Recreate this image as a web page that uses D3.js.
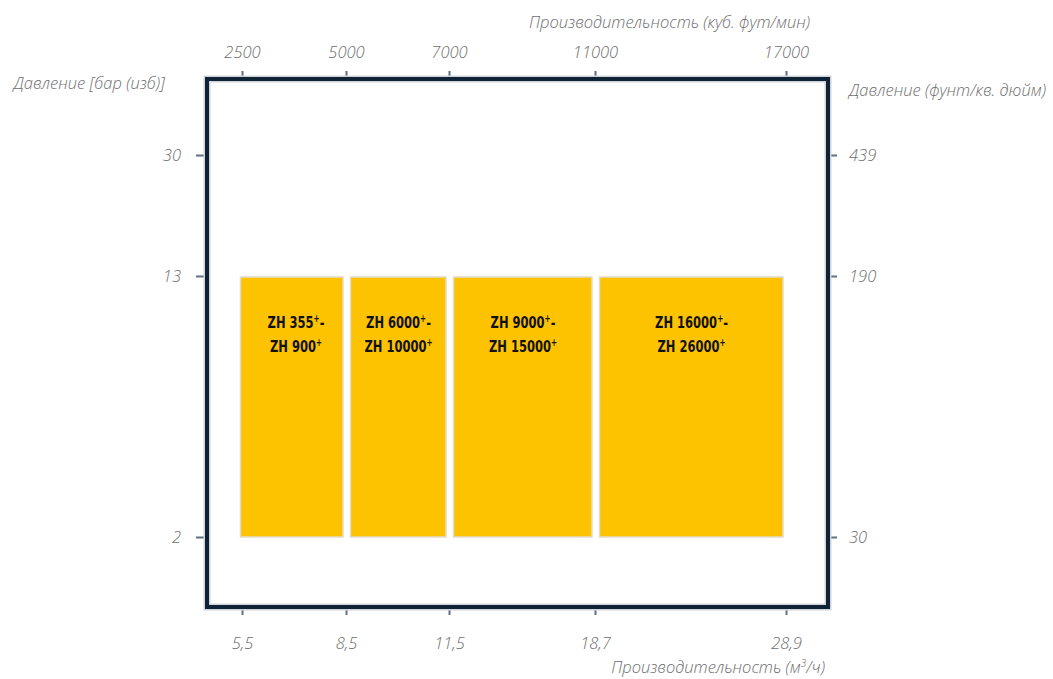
<!DOCTYPE html>
<html>
<head>
<meta charset="utf-8">
<title>ZH</title>
<script src="https://d3js.org/d3.v7.min.js"></script>
<style>
  body { margin: 0; background: #fff; }
  .lbl { font-family: "Open Sans", "DejaVu Sans", sans-serif; font-style: italic; font-weight: 300; fill: #6e6e6e; font-size: 16.5px; }
  .tick text { font-family: "Open Sans", "DejaVu Sans", sans-serif; font-style: italic; font-weight: 300; fill: #6e6e6e; font-size: 16.5px; }
  .tick line { stroke: #5f6f80; stroke-width: 2; }
  .bar-text { font-family: "DejaVu Sans", sans-serif; font-weight: bold; font-size: 16px; fill: #111; }
</style>
</head>
<body>
<div id="chart"></div>
<script>
// flow ticks (m3/h, bottom) and (cfm, top)
const flowM3 = [5.5, 8.5, 11.5, 18.7, 28.9];
const flowCfm = [2500, 5000, 7000, 11000, 17000];
// pressure ticks (bar g, left) and (psi, right)
const pressBar = [2, 13, 30];
const pressPsi = [30, 190, 439];

// model ranges
const models = [
  ["ZH 355", "ZH 900"],
  ["ZH 6000", "ZH 10000"],
  ["ZH 9000", "ZH 15000"],
  ["ZH 16000", "ZH 26000"]
];
const flowFrom = [5.5, 8.5, 11.5, 18.7];
const flowTo = [8.5, 11.5, 18.7, 28.9];
const pressFrom = [2, 2, 2, 2];
const pressTo = [13, 13, 13, 13];

const w = 1053, h = 679;
const frame = {left: 207, right: 828, top: 79, bottom: 607};

const svg = d3.select("#chart").append("svg")
  .attr("width", w).attr("height", h);

// uneven spacing, so piecewise scales
const xRange = [242, 346, 449, 595, 786];
const x = d3.scaleLinear().domain(flowM3).range(xRange);
const xTop = d3.scaleLinear().domain(flowCfm).range(xRange);
const yRange = [537, 276, 155];
const y = d3.scaleLinear().domain(pressBar).range(yRange);
const yRight = d3.scaleLinear().domain(pressPsi).range(yRange);

const fmt = d => String(d).replace(".", ",");

// axes
svg.append("g").attr("transform", `translate(0,${frame.top})`)
  .call(d3.axisTop(xTop).tickValues(flowCfm).tickFormat(d => d).tickSize(8).tickPadding(13))
  .call(g => g.select(".domain").remove());
svg.append("g").attr("transform", `translate(0,${frame.bottom})`)
  .call(d3.axisBottom(x).tickValues(flowM3).tickFormat(fmt).tickSize(8).tickPadding(22))
  .call(g => g.select(".domain").remove());
svg.append("g").attr("transform", `translate(${frame.left},0)`)
  .call(d3.axisLeft(y).tickValues(pressBar).tickFormat(d => d).tickSize(11).tickPadding(15))
  .call(g => g.select(".domain").remove());
svg.append("g").attr("transform", `translate(${frame.right},0)`)
  .call(d3.axisRight(yRight).tickValues(pressPsi).tickFormat(d => d).tickSize(9).tickPadding(12))
  .call(g => g.select(".domain").remove());
svg.selectAll(".tick text").attr("fill", null);
svg.selectAll(".tick line").attr("stroke", null);

// frame
svg.append("rect")
  .attr("x", frame.left).attr("y", frame.top)
  .attr("width", frame.right - frame.left).attr("height", frame.bottom - frame.top)
  .attr("fill", "none").attr("stroke", "#cfd4da").attr("stroke-width", 7);
svg.append("rect")
  .attr("x", frame.left).attr("y", frame.top)
  .attr("width", frame.right - frame.left).attr("height", frame.bottom - frame.top)
  .attr("fill", "none").attr("stroke", "#0f2236").attr("stroke-width", 4);

// bars
const bars = models.map((m, i) => ({
  lines: m, x0: flowFrom[i], x1: flowTo[i], y0: pressFrom[i], y1: pressTo[i], i: i
}));

const bg = svg.selectAll("g.bar").data(bars).enter().append("g").attr("class", "bar");
bg.append("rect")
  .attr("x", d => x(d.x0) + (d.i === 0 ? -1.5 : 4.5))
  .attr("y", d => y(d.y1) + 1)
  .attr("width", d => x(d.x1) - 3 - (x(d.x0) + (d.i === 0 ? -1.5 : 4.5)))
  .attr("height", d => y(d.y0) - y(d.y1) - 1)
  .attr("fill", "#fdc300")
  .attr("stroke", "#e2dccb")
  .attr("stroke-width", 1.5);

// condensed look: squeeze the labels horizontally
bg.each(function(d) {
  const cx = (x(d.x0) + x(d.x1)) / 2 + (d.i === 0 ? 2 : 1);
  const top = y(d.y1);
  const t = d3.select(this).append("text").attr("class", "bar-text")
    .attr("text-anchor", "middle")
    .attr("transform", `translate(${cx},${top}) scale(0.72,1)`);
  d.lines.forEach((line, k) => {
    const tl = t.append("tspan").attr("x", 0).attr("y", 52 + k * 24);
    tl.append("tspan").text(line);
    tl.append("tspan").attr("font-size", "10px").attr("dy", "-6").text("+");
    if (k === 0) tl.append("tspan").attr("dy", "6").text("-");
  });
});

// axis titles
svg.append("text").attr("class", "lbl").attr("text-anchor", "end")
  .attr("x", 165).attr("y", 89).text("Давление [бар (изб)]");
svg.append("text").attr("class", "lbl").attr("text-anchor", "start")
  .attr("x", 849).attr("y", 96).text("Давление (фунт/кв. дюйм)");
svg.append("text").attr("class", "lbl").attr("text-anchor", "end")
  .attr("x", 810).attr("y", 28).text("Производительность (куб. фут/мин)");
const bt = svg.append("text").attr("class", "lbl").attr("text-anchor", "end")
  .attr("x", 825).attr("y", 673);
bt.append("tspan").text("Производительность (м");
bt.append("tspan").attr("font-size", "10px").attr("dy", "-6").text("3");
bt.append("tspan").attr("dy", "6").text("/ч)");
</script>
</body>
</html>
